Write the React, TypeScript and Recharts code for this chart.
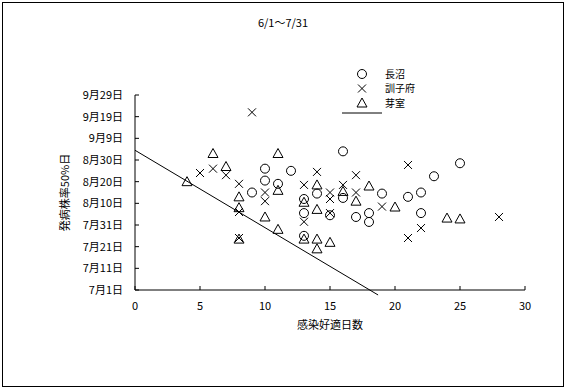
import { ScatterChart, Scatter, XAxis, YAxis, ReferenceLine } from 'recharts'

const FONT = '"Noto Sans CJK JP", "Noto Sans", sans-serif'

// x = 感染好適日数, y = days after 7/1
const naganuma = [
  { x: 9, y: 45 }, { x: 10, y: 56 }, { x: 10, y: 50.5 }, { x: 11, y: 49 }, { x: 12, y: 55 },
  { x: 13, y: 42 }, { x: 13, y: 35.5 }, { x: 13, y: 25 }, { x: 14, y: 44.5 }, { x: 15, y: 34.5 },
  { x: 16, y: 64 }, { x: 16, y: 42.5 }, { x: 17, y: 33.7 }, { x: 18, y: 35.5 }, { x: 18, y: 31.4 },
  { x: 19, y: 44.5 }, { x: 21, y: 43 }, { x: 22, y: 45 }, { x: 22, y: 35.5 }, { x: 23, y: 52.5 },
  { x: 25, y: 58.5 },
]

const kunneppu = [
  { x: 5, y: 54 }, { x: 6, y: 56 }, { x: 7, y: 53 }, { x: 8, y: 49 }, { x: 8, y: 36 },
  { x: 8, y: 24 }, { x: 9, y: 82 }, { x: 10, y: 45 }, { x: 10, y: 41 }, { x: 13, y: 48.5 },
  { x: 13, y: 31.5 }, { x: 14, y: 54.5 }, { x: 15, y: 45 }, { x: 15, y: 42 }, { x: 15, y: 35.5 },
  { x: 16, y: 48.5 }, { x: 17, y: 53 }, { x: 17, y: 45 }, { x: 19, y: 38.5 }, { x: 21, y: 57.7 },
  { x: 21, y: 24 }, { x: 22, y: 28.6 }, { x: 28, y: 33.7 },
]

const memuro = [
  { x: 4, y: 50 }, { x: 6, y: 63 }, { x: 7, y: 57 }, { x: 8, y: 43 }, { x: 8, y: 38 },
  { x: 8, y: 23.5 }, { x: 10, y: 33.7 }, { x: 11, y: 63 }, { x: 11, y: 46 }, { x: 11, y: 28 },
  { x: 13, y: 40.5 }, { x: 13, y: 23.5 }, { x: 14, y: 48.5 }, { x: 14, y: 37.2 }, { x: 14, y: 23.5 },
  { x: 14, y: 19 }, { x: 15, y: 22 }, { x: 16, y: 45.5 }, { x: 17, y: 41 }, { x: 18, y: 48 },
  { x: 20, y: 38.3 }, { x: 24, y: 33.2 }, { x: 25, y: 32.8 },
]

const trend = [{ x: 0, y: 64.5 }, { x: 18.7, y: -2.3 }]

const xTicks = [0, 5, 10, 15, 20, 25, 30]
const yTicks = [0, 10, 20, 30, 40, 50, 60, 70, 80, 90]
const yLabels = ['7月1日', '7月11日', '7月21日', '7月31日', '8月10日', '8月20日', '8月30日', '9月9日', '9月19日', '9月29日']

const circleShape = (p: any) => (
  <circle cx={p.cx} cy={p.cy} r={4.5} fill="none" stroke="#000" strokeWidth={1} />
)
const crossShape = (p: any) => (
  <path d={`M${p.cx - 4},${p.cy - 4}L${p.cx + 4},${p.cy + 4}M${p.cx + 4},${p.cy - 4}L${p.cx - 4},${p.cy + 4}`} stroke="#000" strokeWidth={1} fill="none" />
)
const triangleShape = (p: any) => (
  <path d={`M${p.cx},${p.cy - 5}L${p.cx + 5},${p.cy + 4}L${p.cx - 5},${p.cy + 4}Z`} stroke="#000" strokeWidth={1} fill="none" />
)

const tickStyle = { fill: '#000', fontSize: 11, fontFamily: FONT }

function LegendBox() {
  const rows = [
    { name: '長沼', shape: circleShape },
    { name: '訓子府', shape: crossShape },
    { name: '芽室', shape: triangleShape },
  ]
  return (
    <svg width={120} height={70} style={{ position: 'absolute', left: 330, top: 62 }}>
      {rows.map((r, i) => (
        <g key={r.name}>
          {r.shape({ cx: 32, cy: 12 + i * 14.5 })}
          <text x={55} y={12 + i * 14.5} dy="0.35em" fontSize={10} fontFamily={FONT} fill="#000">{r.name}</text>
        </g>
      ))}
      <line x1={12} x2={52} y1={51} y2={51} stroke="#000" strokeWidth={1} />
    </svg>
  )
}

export default function App() {
  return (
    <div style={{ position: 'absolute', left: 0, top: 0, width: 566, height: 391, background: '#fff', fontFamily: FONT }}>
      <div style={{ position: 'absolute', left: 2, top: 2, width: 560, height: 383, border: '1px solid #000' }} />
      <div style={{ position: 'absolute', left: 0, width: 566, top: 14, textAlign: 'center', fontSize: 11 }}>6/1～7/31</div>
      <ScatterChart width={566} height={391} margin={{ top: 95, right: 41, bottom: 61, left: 0 }}>
        <XAxis
          type="number"
          dataKey="x"
          domain={[0, 30]}
          ticks={xTicks}
          interval={0}
          height={40}
          tickSize={-4}
          tickMargin={16}
          tick={tickStyle}
          stroke="#000"
          label={{ value: '感染好適日数', position: 'insideTop', offset: 31, fill: '#000', fontSize: 11, fontFamily: FONT }}
        />
        <YAxis
          type="number"
          dataKey="y"
          domain={[0, 90]}
          ticks={yTicks}
          interval={0}
          width={135}
          tickSize={-4}
          tickMargin={16}
          tick={tickStyle}
          stroke="#000"
          tickFormatter={(v: number) => yLabels[yTicks.indexOf(v)]}
          label={{ value: '発病株率50%日', angle: -90, position: 'center', dx: -2, fill: '#000', fontSize: 11, fontFamily: FONT }}
        />
        <ReferenceLine segment={trend} stroke="#000" strokeWidth={1} ifOverflow="visible" />
        <Scatter name="長沼" data={naganuma} shape={circleShape} isAnimationActive={false} />
        <Scatter name="訓子府" data={kunneppu} shape={crossShape} isAnimationActive={false} />
        <Scatter name="芽室" data={memuro} shape={triangleShape} isAnimationActive={false} />
      </ScatterChart>
      <LegendBox />
    </div>
  )
}
